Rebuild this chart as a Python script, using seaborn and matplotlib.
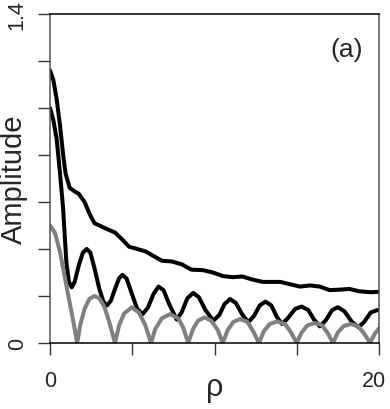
import numpy as np
import pandas as pd
import seaborn as sns
import matplotlib
matplotlib.use("Agg")
from matplotlib import pyplot as plt
from matplotlib.transforms import ScaledTranslation

########
# DATA #
########

# upper black curve
rho_top = [0, 0.2, 0.4, 0.6, 0.8, 0.95, 1.2, 1.5, 1.75, 2.1, 2.4, 2.7, 3.3, 3.95,
           4.4, 4.8, 5.3, 5.8, 6.3, 6.8, 7.4, 8.0, 8.6, 9.3, 9.9, 10.5, 11.1, 11.7,
           12.3, 12.95, 13.6, 14.0, 14.6, 15.2, 15.8, 16.4, 17.0, 17.6, 18.2, 18.8,
           19.5, 20.0]
amp_top = [1.16, 1.12, 1.04, 0.93, 0.80, 0.72, 0.66, 0.645, 0.635, 0.60, 0.55, 0.51,
           0.49, 0.47, 0.44, 0.41, 0.40, 0.39, 0.37, 0.35, 0.347, 0.335, 0.312, 0.31,
           0.30, 0.285, 0.28, 0.283, 0.27, 0.26, 0.26, 0.26, 0.25, 0.24, 0.245, 0.24,
           0.225, 0.227, 0.23, 0.22, 0.216, 0.218]

# middle black curve
rho_mid = [0, 0.2, 0.4, 0.6, 0.8, 0.91, 1.0, 1.15, 1.32, 1.5, 1.75, 2.0, 2.23, 2.45,
           2.7, 3.0, 3.25, 3.45, 3.7, 3.95, 4.2, 4.4, 4.65, 4.95, 5.3, 5.63, 5.95,
           6.3, 6.6, 6.9, 7.25, 7.7, 8.0, 8.35, 8.7, 9.05, 9.45, 9.93, 10.3, 10.6,
           10.94, 11.3, 11.7, 12.05, 12.4, 12.75, 13.1, 13.45, 13.8, 14.1, 14.45,
           14.9, 15.3, 15.7, 16.05, 16.4, 16.75, 17.15, 17.5, 17.9, 18.35, 18.75,
           19.1, 19.5, 19.9, 20.0]
amp_mid = [1.00, 0.95, 0.87, 0.73, 0.57, 0.44, 0.34, 0.26, 0.237, 0.26, 0.33, 0.385,
           0.40, 0.385, 0.32, 0.23, 0.175, 0.159, 0.18, 0.23, 0.275, 0.29, 0.275,
           0.215, 0.145, 0.123, 0.15, 0.21, 0.24, 0.225, 0.165, 0.10, 0.13, 0.19,
           0.213, 0.195, 0.14, 0.095, 0.12, 0.165, 0.187, 0.17, 0.12, 0.088, 0.115,
           0.16, 0.176, 0.16, 0.11, 0.081, 0.105, 0.145, 0.155, 0.14, 0.10, 0.071,
           0.095, 0.14, 0.152, 0.135, 0.09, 0.067, 0.09, 0.13, 0.14, 0.14]

# grey curve
rho_grey = [0, 0.3, 0.6, 0.9, 1.2, 1.45, 1.65, 1.85, 2.1, 2.4, 2.7, 3.0, 3.3, 3.6,
            3.95, 4.2, 4.5, 4.97, 5.4, 5.8, 6.14, 6.4, 6.8, 7.3, 7.8, 8.1, 8.4, 8.7,
            9.0, 9.4, 9.8, 10.2, 10.5, 10.8, 11.15, 11.55, 12.0, 12.35, 12.7, 13.0,
            13.35, 13.8, 14.3, 14.65, 15.0, 15.3, 15.65, 16.1, 16.55, 16.9, 17.2,
            17.5, 17.85, 18.3, 18.75, 19.1, 19.45, 19.75, 20.0]
amp_grey = [0.50, 0.47, 0.39, 0.28, 0.17, 0.08, 0.0, 0.08, 0.145, 0.188, 0.20, 0.19,
            0.155, 0.09, 0.0, 0.075, 0.125, 0.152, 0.13, 0.075, 0.0, 0.06, 0.105,
            0.123, 0.105, 0.065, 0.0, 0.06, 0.095, 0.109, 0.095, 0.055, 0.0, 0.055,
            0.09, 0.102, 0.09, 0.05, 0.0, 0.05, 0.08, 0.092, 0.08, 0.045, 0.0, 0.045,
            0.075, 0.085, 0.075, 0.04, 0.0, 0.045, 0.072, 0.081, 0.07, 0.04, 0.0,
            0.04, 0.062]

x_ticks = [0, 5, 10, 15, 20]
x_labels = ["0", "", "", "", "20"]
y_ticks = [0, 0.2, 0.4, 0.6, 0.8, 1.0, 1.2, 1.4]
y_labels = ["0", "", "", "", "", "", "", "1.4"]

############
# PLOTTING #
############

sns.set_style("ticks")
plt.rcParams['font.family'] = ['Liberation Sans', 'DejaVu Sans']

fig = plt.figure(figsize=(3.9, 4.1), dpi=100)
ax = fig.add_axes([50/390, 66/410, 329/390, 329/410])

sns.lineplot(x=rho_top, y=amp_top, color="black", lw=2.9, ax=ax)
sns.lineplot(x=rho_mid, y=amp_mid, color="black", lw=2.9, ax=ax)
sns.lineplot(x=rho_grey, y=amp_grey, color="#808080", lw=2.9, ax=ax)

ax.set_xlim(0, 20)
ax.set_ylim(0, 1.4)
ax.set_xticks(x_ticks)
ax.set_xticklabels(x_labels)
ax.set_yticks(y_ticks)
ax.set_yticklabels(y_labels, rotation=90, va="center")
ax.tick_params(axis="both", direction="out", length=8.6, width=1.0,
               color="#333333", labelsize=15.5)
ax.tick_params(axis="x", pad=11)
ax.tick_params(axis="y", pad=7.5)

# last x label is pulled in a bit like in the original
lbl = ax.get_xticklabels()[-1]
lbl.set_transform(lbl.get_transform() + ScaledTranslation(-5/100, 0, fig.dpi_scale_trans))

for side in ["left", "right"]:
    ax.spines[side].set_color("#555555")
for side in ["top", "bottom"]:
    ax.spines[side].set_color("black")
for side in ax.spines:
    ax.spines[side].set_linewidth(1.1)
    ax.spines[side].set_visible(True)

ax.set_xlabel("ρ", fontsize=22, va="baseline")
ax.xaxis.set_label_coords(0.5, -0.157)
ax.set_ylabel("Amplitude", fontsize=21, va="baseline")
ax.yaxis.set_label_coords(-0.085, 0.5)

ax.text(0.951, 0.894, "(a)", transform=ax.transAxes, ha="right", va="center",
        fontsize=19)

fig.savefig("out.png", dpi=100)
